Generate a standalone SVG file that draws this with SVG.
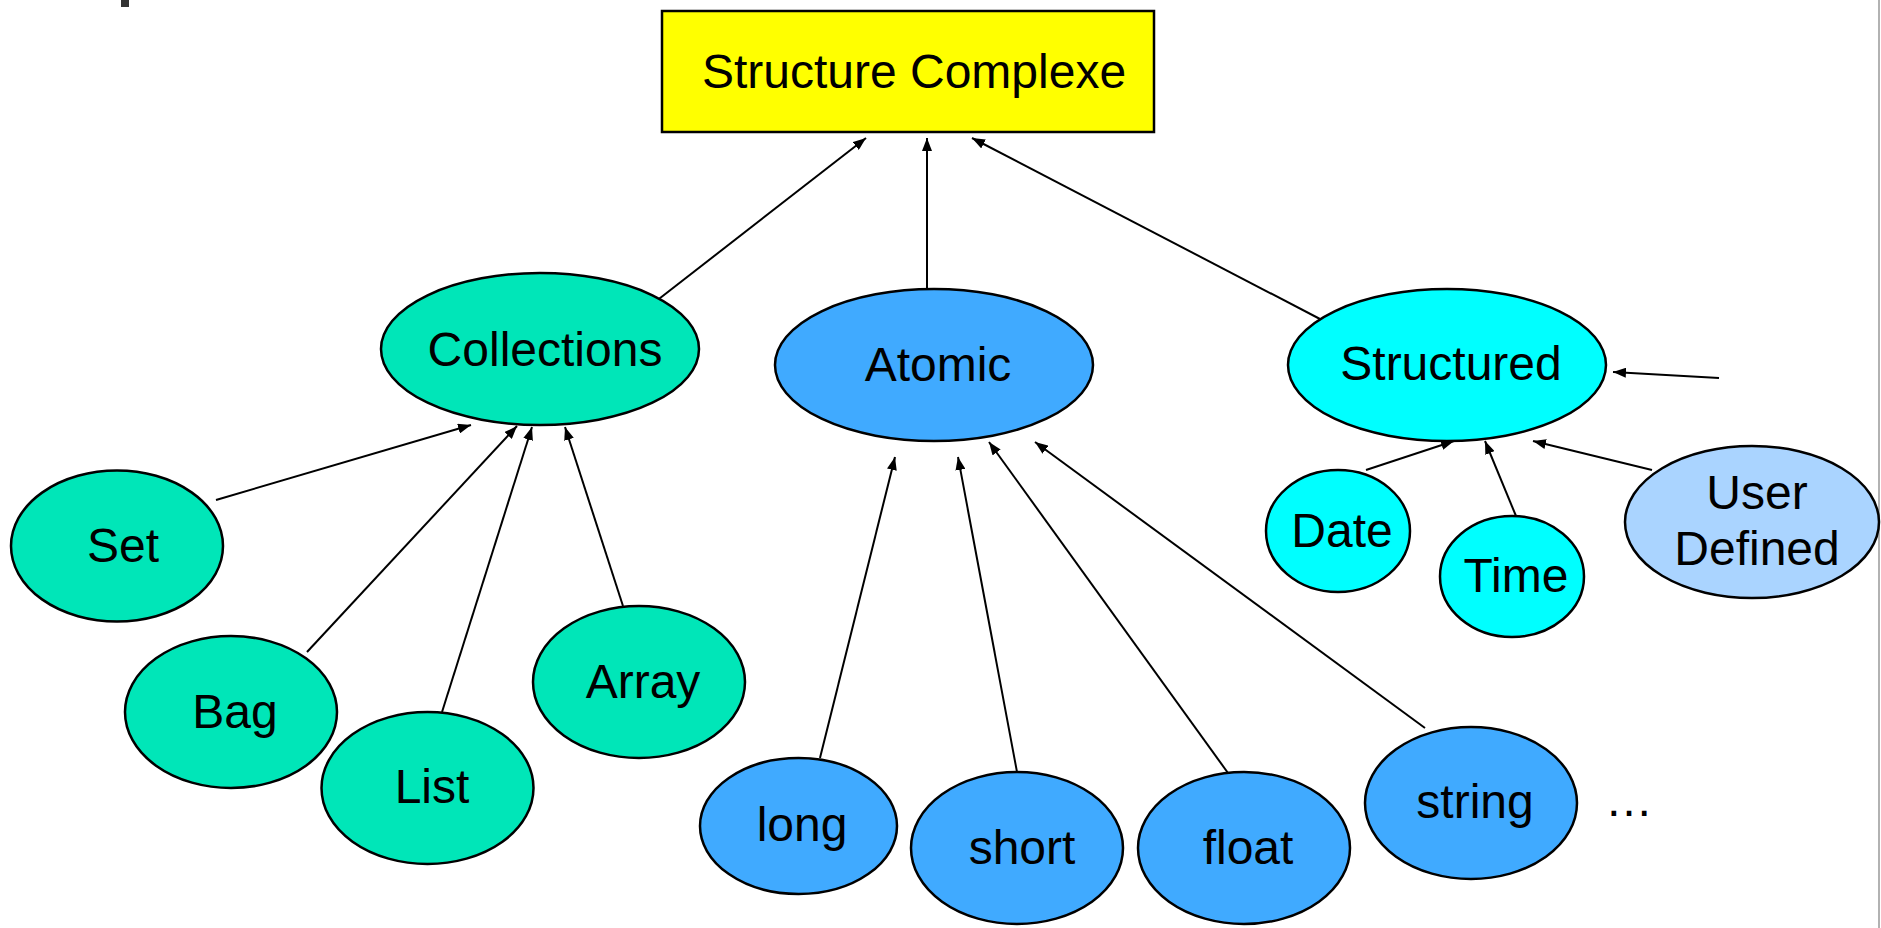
<svg xmlns="http://www.w3.org/2000/svg" width="1881" height="928" viewBox="0 0 1881 928">
<style>
.n{stroke:#000;stroke-width:2.5}
.t{font-family:"Liberation Sans",Arial,sans-serif;font-size:48px;fill:#000;text-anchor:middle}
.c{fill:#00E6B8}
.a{fill:#40AAFF}
.s{fill:#00FFFF}
.u{fill:#AAD4FF}
.e{stroke:#000;stroke-width:2;fill:none;marker-end:url(#ah)}
</style>
<defs>
<marker id="ah" markerUnits="userSpaceOnUse" markerWidth="14" markerHeight="10" refX="13" refY="5" orient="auto">
<path d="M0,0 L13,5 L0,10 Z" fill="#000"/>
</marker>
</defs>
<rect x="0" y="0" width="1881" height="928" fill="#fff"/>
<rect x="121" y="0" width="8" height="7" fill="#333"/>
<line x1="1879" y1="0" x2="1879" y2="928" stroke="#999" stroke-width="1.5"/>
<g id="connectors">
<line class="e" x1="655" y1="302" x2="866" y2="138"/>
<line class="e" x1="927" y1="289" x2="927" y2="138"/>
<line class="e" x1="1320" y1="319" x2="972" y2="138"/>
<line class="e" x1="216" y1="500" x2="471" y2="425"/>
<line class="e" x1="307" y1="652" x2="517" y2="426"/>
<line class="e" x1="442" y1="712" x2="532" y2="427"/>
<line class="e" x1="623" y1="606" x2="565" y2="427"/>
<line class="e" x1="820" y1="758" x2="895" y2="457"/>
<line class="e" x1="1017" y1="772" x2="958" y2="457"/>
<line class="e" x1="1228" y1="773" x2="989" y2="442"/>
<line class="e" x1="1425" y1="728" x2="1035" y2="442"/>
<line class="e" x1="1366" y1="470" x2="1454" y2="441"/>
<line class="e" x1="1516" y1="516" x2="1485" y2="441"/>
<line class="e" x1="1652" y1="470" x2="1533" y2="441"/>
<line class="e" x1="1719" y1="378" x2="1613" y2="372"/>
</g>
<g id="structure-complexe">
<rect x="662" y="11" width="492" height="121" fill="#FFFF00" class="n"/>
<text class="t" x="914" y="88">Structure Complexe</text>
</g>
<g id="collections">
<ellipse cx="540" cy="349" rx="159" ry="76" class="n c"/>
<text class="t" x="545" y="366">Collections</text>
</g>
<g id="atomic">
<ellipse cx="934" cy="365" rx="159" ry="76" class="n a"/>
<text class="t" x="938" y="381">Atomic</text>
</g>
<g id="structured">
<ellipse cx="1447" cy="365" rx="159" ry="76" class="n s"/>
<text class="t" x="1451" y="380">Structured</text>
</g>
<g id="set">
<ellipse cx="117" cy="546" rx="106" ry="75.5" class="n c"/>
<text class="t" x="123" y="562">Set</text>
</g>
<g id="bag">
<ellipse cx="231" cy="712" rx="106" ry="76" class="n c"/>
<text class="t" x="235" y="728">Bag</text>
</g>
<g id="list">
<ellipse cx="427.5" cy="788" rx="106" ry="76" class="n c"/>
<text class="t" x="432" y="803">List</text>
</g>
<g id="array">
<ellipse cx="639" cy="682" rx="106" ry="76" class="n c"/>
<text class="t" x="643" y="698">Array</text>
</g>
<g id="long">
<ellipse cx="798.5" cy="826" rx="98.5" ry="68" class="n a"/>
<text class="t" x="802" y="841">long</text>
</g>
<g id="short">
<ellipse cx="1017" cy="848" rx="106" ry="76" class="n a"/>
<text class="t" x="1022" y="864">short</text>
</g>
<g id="float">
<ellipse cx="1244" cy="848" rx="106" ry="76" class="n a"/>
<text class="t" x="1248" y="864">float</text>
</g>
<g id="string">
<ellipse cx="1471" cy="803" rx="106" ry="76" class="n a"/>
<text class="t" x="1475" y="818">string</text>
</g>
<g id="ellipsis">
<text class="t" x="1629" y="816">…</text>
</g>
<g id="date">
<ellipse cx="1338" cy="531" rx="72" ry="61" class="n s"/>
<text class="t" x="1342" y="547">Date</text>
</g>
<g id="time">
<ellipse cx="1512" cy="576.5" rx="72" ry="60.5" class="n s"/>
<text class="t" x="1516" y="592">Time</text>
</g>
<g id="user-defined">
<ellipse cx="1752" cy="522" rx="127" ry="76" class="n u"/>
<text class="t" x="1757" y="509">User</text>
<text class="t" x="1757" y="565">Defined</text>
</g>
</svg>
